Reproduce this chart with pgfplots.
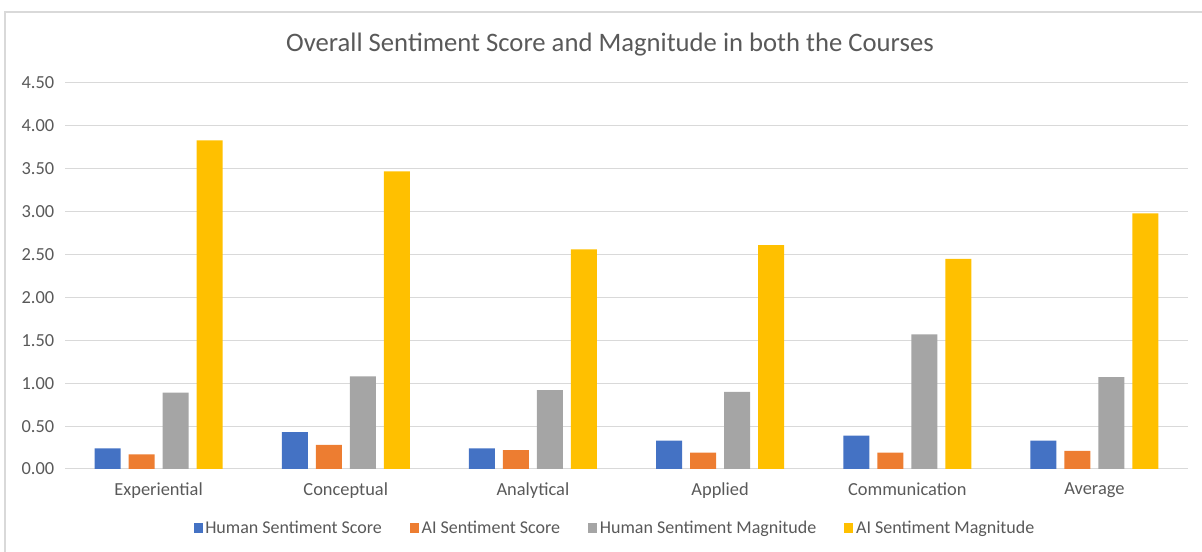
\documentclass[border=0pt]{standalone}
\usepackage{pgfplots}
\pgfplotsset{compat=1.18}
\usepackage{fontspec}
\setmainfont{Carlito}
\definecolor{cblue}{HTML}{4472C4}
\definecolor{corange}{HTML}{ED7D31}
\definecolor{cgray}{HTML}{A5A5A5}
\definecolor{cyellow}{HTML}{FFC000}
\definecolor{gridgray}{HTML}{D9D9D9}
\definecolor{tickgray}{HTML}{595959}
\begin{document}
\begin{tikzpicture}[x=1pt,y=1pt]
\path[use as bounding box] (-48.75,-62.25) rectangle (852.75,351.75);
\draw[color=gridgray, line width=0.9pt] (-45,-70) -- (-45,342.75) -- (860,342.75);
\node[text=tickgray, font=\fontsize{20}{24}\selectfont] at (408.75,318) {Overall Sentiment Score and Magnitude in both the Courses};
\begin{axis}[
  at={(0,0)}, anchor=south west,
  width=842.25pt, height=289.5pt, scale only axis,
  ymin=0, ymax=4.5, ytick={0,0.5,...,4.5},
  xmin=-0.5, xmax=5.5, xtick={0,...,5},
  xticklabels={Experiential,Conceptual,Analytical,Applied,Communication,Average},
  ybar=6pt, bar width=19.5pt,
  axis line style={draw=none},
  major tick length=0pt,
  ymajorgrids, grid style={gridgray, line width=0.75pt},
  tick label style={font=\fontsize{13.8}{16}\selectfont, text=tickgray},
  yticklabel style={/pgf/number format/fixed, /pgf/number format/fixed zerofill, /pgf/number format/precision=2, /pgf/number format/assume math mode=true, xshift=-4.5pt},
  xticklabel style={yshift=-7pt},
  legend style={at={(0.490,-0.1528)}, anchor=center, draw=none, legend columns=4,
    font=\fontsize{13.5}{16}\selectfont, text=tickgray,
    /tikz/every even column/.append style={column sep=19pt}},
  legend image code/.code={\fill[#1] (0pt,-3.4pt) rectangle (6.8pt,3.4pt);},
]
\addplot[fill=cblue, draw=none] coordinates {(0,0.24) (1,0.43) (2,0.24) (3,0.33) (4,0.39) (5,0.33)};
\addplot[fill=corange, draw=none] coordinates {(0,0.17) (1,0.28) (2,0.22) (3,0.19) (4,0.19) (5,0.21)};
\addplot[fill=cgray, draw=none] coordinates {(0,0.89) (1,1.08) (2,0.92) (3,0.90) (4,1.57) (5,1.07)};
\addplot[fill=cyellow, draw=none] coordinates {(0,3.83) (1,3.47) (2,2.56) (3,2.61) (4,2.45) (5,2.98)};
\legend{Human Sentiment Score, AI Sentiment Score, Human Sentiment Magnitude, AI Sentiment Magnitude}
\end{axis}
\end{tikzpicture}
\end{document}
